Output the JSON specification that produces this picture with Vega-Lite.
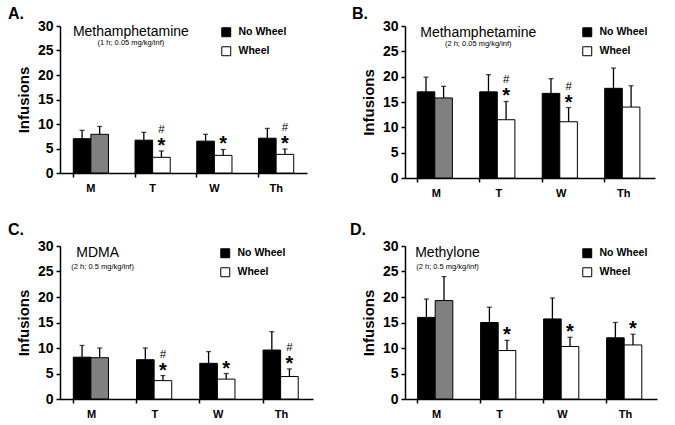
{
  "$schema": "https://vega.github.io/schema/vega-lite/v6.json",
  "background": "white",
  "padding": {"left": 8, "top": 6, "right": 5, "bottom": 0},
  "columns": 2,
  "spacing": {"row": 24, "column": 37},
  "resolve": {"scale": {"fill": "independent", "x": "independent", "y": "independent"}, "legend": {"fill": "independent"}},
  "datasets": {
    "bars": [
      {"panel": "A", "day": "M", "group": "No Wheel", "fill": "No Wheel", "v": 7.0, "hi": 8.7, "star": "", "hash": ""},
      {"panel": "A", "day": "M", "group": "Wheel", "fill": "Wheel M", "v": 7.9, "hi": 9.5, "star": "", "hash": ""},
      {"panel": "A", "day": "T", "group": "No Wheel", "fill": "No Wheel", "v": 6.7, "hi": 8.3, "star": "", "hash": ""},
      {"panel": "A", "day": "T", "group": "Wheel", "fill": "Wheel", "v": 3.2, "hi": 4.5, "star": "*", "hash": "#"},
      {"panel": "A", "day": "W", "group": "No Wheel", "fill": "No Wheel", "v": 6.5, "hi": 7.9, "star": "", "hash": ""},
      {"panel": "A", "day": "W", "group": "Wheel", "fill": "Wheel", "v": 3.6, "hi": 4.8, "star": "*", "hash": ""},
      {"panel": "A", "day": "Th", "group": "No Wheel", "fill": "No Wheel", "v": 7.1, "hi": 9.1, "star": "", "hash": ""},
      {"panel": "A", "day": "Th", "group": "Wheel", "fill": "Wheel", "v": 3.8, "hi": 4.9, "star": "*", "hash": "#"},
      {"panel": "B", "day": "M", "group": "No Wheel", "fill": "No Wheel", "v": 17.0, "hi": 19.9, "star": "", "hash": ""},
      {"panel": "B", "day": "M", "group": "Wheel", "fill": "Wheel M", "v": 15.8, "hi": 18.1, "star": "", "hash": ""},
      {"panel": "B", "day": "T", "group": "No Wheel", "fill": "No Wheel", "v": 17.0, "hi": 20.4, "star": "", "hash": ""},
      {"panel": "B", "day": "T", "group": "Wheel", "fill": "Wheel", "v": 11.5, "hi": 15.1, "star": "*", "hash": "#"},
      {"panel": "B", "day": "W", "group": "No Wheel", "fill": "No Wheel", "v": 16.7, "hi": 19.6, "star": "", "hash": ""},
      {"panel": "B", "day": "W", "group": "Wheel", "fill": "Wheel", "v": 11.1, "hi": 13.9, "star": "*", "hash": "#"},
      {"panel": "B", "day": "Th", "group": "No Wheel", "fill": "No Wheel", "v": 17.7, "hi": 21.7, "star": "", "hash": ""},
      {"panel": "B", "day": "Th", "group": "Wheel", "fill": "Wheel", "v": 14.0, "hi": 18.2, "star": "", "hash": ""},
      {"panel": "C", "day": "M", "group": "No Wheel", "fill": "No Wheel", "v": 8.2, "hi": 10.5, "star": "", "hash": ""},
      {"panel": "C", "day": "M", "group": "Wheel", "fill": "Wheel M", "v": 8.1, "hi": 10.0, "star": "", "hash": ""},
      {"panel": "C", "day": "T", "group": "No Wheel", "fill": "No Wheel", "v": 7.7, "hi": 10.0, "star": "", "hash": ""},
      {"panel": "C", "day": "T", "group": "Wheel", "fill": "Wheel", "v": 3.6, "hi": 4.6, "star": "*", "hash": "#"},
      {"panel": "C", "day": "W", "group": "No Wheel", "fill": "No Wheel", "v": 7.0, "hi": 9.3, "star": "", "hash": ""},
      {"panel": "C", "day": "W", "group": "Wheel", "fill": "Wheel", "v": 3.9, "hi": 5.0, "star": "*", "hash": ""},
      {"panel": "C", "day": "Th", "group": "No Wheel", "fill": "No Wheel", "v": 9.6, "hi": 13.2, "star": "", "hash": ""},
      {"panel": "C", "day": "Th", "group": "Wheel", "fill": "Wheel", "v": 4.4, "hi": 5.9, "star": "*", "hash": "#"},
      {"panel": "D", "day": "M", "group": "No Wheel", "fill": "No Wheel", "v": 16.0, "hi": 19.6, "star": "", "hash": ""},
      {"panel": "D", "day": "M", "group": "Wheel", "fill": "Wheel M", "v": 19.3, "hi": 24.0, "star": "", "hash": ""},
      {"panel": "D", "day": "T", "group": "No Wheel", "fill": "No Wheel", "v": 15.0, "hi": 18.0, "star": "", "hash": ""},
      {"panel": "D", "day": "T", "group": "Wheel", "fill": "Wheel", "v": 9.5, "hi": 11.5, "star": "*", "hash": ""},
      {"panel": "D", "day": "W", "group": "No Wheel", "fill": "No Wheel", "v": 15.7, "hi": 19.8, "star": "", "hash": ""},
      {"panel": "D", "day": "W", "group": "Wheel", "fill": "Wheel", "v": 10.3, "hi": 12.1, "star": "*", "hash": ""},
      {"panel": "D", "day": "Th", "group": "No Wheel", "fill": "No Wheel", "v": 12.0, "hi": 15.0, "star": "", "hash": ""},
      {"panel": "D", "day": "Th", "group": "Wheel", "fill": "Wheel", "v": 10.6, "hi": 12.7, "star": "*", "hash": ""}
    ],
    "labels": [
      {"panel": "A", "kind": "main", "day": "M", "y": 28.8, "text": "Methamphetamine"},
      {"panel": "A", "kind": "sub", "day": "M", "y": 26.5, "text": "(1 h; 0.05 mg/kg/inf)"},
      {"panel": "B", "kind": "main", "day": "M", "y": 28.6, "text": "Methamphetamine"},
      {"panel": "B", "kind": "sub", "day": "M", "y": 26.4, "text": "(2 h; 0.05 mg/kg/inf)"},
      {"panel": "C", "kind": "main", "day": "M", "y": 28.6, "text": "MDMA"},
      {"panel": "C", "kind": "sub", "day": "M", "y": 25.9, "text": "(2 h; 0.5 mg/kg/inf)"},
      {"panel": "D", "kind": "main", "day": "M", "y": 28.6, "text": "Methylone"},
      {"panel": "D", "kind": "sub", "day": "M", "y": 25.9, "text": "(2 h; 0.5 mg/kg/inf)"}
    ]
  },
  "concat": [
    {
      "width": 247, "height": 147,
      "title": {"text": "A.", "anchor": "start", "frame": "group", "dx": -52, "offset": -3},
      "layer": [
        {"data": {"name": "bars"}, "transform": [{"filter": "datum.panel === 'A'"}],
         "mark": {"type": "bar", "stroke": "black", "strokeWidth": 1},
         "encoding": {
           "x": {"field": "day", "type": "nominal", "sort": ["M", "T", "W", "Th"], "scale": {"paddingInner": 0.43, "paddingOuter": 0.215}, "axis": {"bandPosition": 0}},
           "xOffset": {"field": "group", "type": "nominal", "sort": ["No Wheel", "Wheel"]},
           "y": {"field": "v", "type": "quantitative", "title": "Infusions", "scale": {"domain": [0, 30]}, "axis": {"values": [0, 5, 10, 15, 20, 25, 30], "tickCount": 7, "labelOverlap": false}},
           "fill": {"field": "fill", "type": "nominal", "scale": {"domain": ["No Wheel", "Wheel", "Wheel M"], "range": ["#000000", "#ffffff", "#808080"]}, "legend": {"title": null, "values": ["No Wheel", "Wheel"], "legendX": 161, "legendY": 1}}
         }},
        {"data": {"name": "bars"}, "transform": [{"filter": "datum.panel === 'A'"}],
         "mark": {"type": "rule", "color": "black", "strokeWidth": 1.3},
         "encoding": {"x": {"field": "day", "type": "nominal", "sort": ["M", "T", "W", "Th"]}, "xOffset": {"field": "group", "type": "nominal", "sort": ["No Wheel", "Wheel"]}, "y": {"field": "v", "type": "quantitative", "title": "Infusions", "axis": {"values": [0, 5, 10, 15, 20, 25, 30], "tickCount": 7, "labelOverlap": false}}, "y2": {"field": "hi"}}},
        {"data": {"name": "bars"}, "transform": [{"filter": "datum.panel === 'A'"}],
         "mark": {"type": "tick", "color": "black", "thickness": 1.3, "size": 5},
         "encoding": {"x": {"field": "day", "type": "nominal", "sort": ["M", "T", "W", "Th"]}, "xOffset": {"field": "group", "type": "nominal", "sort": ["No Wheel", "Wheel"]}, "y": {"field": "hi", "type": "quantitative", "title": "Infusions", "axis": {"values": [0, 5, 10, 15, 20, 25, 30], "tickCount": 7, "labelOverlap": false}}}},
        {"data": {"name": "bars"}, "transform": [{"filter": "datum.panel === 'A'"}],
         "mark": {"type": "text", "fontSize": 20, "fontWeight": "bold", "baseline": "alphabetic", "dy": 1},
         "encoding": {"x": {"field": "day", "type": "nominal", "sort": ["M", "T", "W", "Th"]}, "xOffset": {"field": "group", "type": "nominal", "sort": ["No Wheel", "Wheel"]}, "y": {"field": "hi", "type": "quantitative", "title": "Infusions", "axis": {"values": [0, 5, 10, 15, 20, 25, 30], "tickCount": 7, "labelOverlap": false}}, "text": {"field": "star"}}},
        {"data": {"name": "bars"}, "transform": [{"filter": "datum.panel === 'A'"}],
         "mark": {"type": "text", "fontSize": 11.5, "baseline": "alphabetic", "dy": -18},
         "encoding": {"x": {"field": "day", "type": "nominal", "sort": ["M", "T", "W", "Th"]}, "xOffset": {"field": "group", "type": "nominal", "sort": ["No Wheel", "Wheel"]}, "y": {"field": "hi", "type": "quantitative", "title": "Infusions", "axis": {"values": [0, 5, 10, 15, 20, 25, 30], "tickCount": 7, "labelOverlap": false}}, "text": {"field": "hash"}}},
        {"data": {"name": "labels"}, "transform": [{"filter": "datum.panel === 'A' && datum.kind === 'main'"}],
         "mark": {"type": "text", "fontSize": 14, "baseline": "middle", "dx": 40},
         "encoding": {"x": {"field": "day", "type": "nominal", "sort": ["M", "T", "W", "Th"]}, "y": {"field": "y", "type": "quantitative", "title": "Infusions", "axis": {"values": [0, 5, 10, 15, 20, 25, 30], "tickCount": 7, "labelOverlap": false}}, "text": {"field": "text"}}},
        {"data": {"name": "labels"}, "transform": [{"filter": "datum.panel === 'A' && datum.kind === 'sub'"}],
         "mark": {"type": "text", "fontSize": 7.5, "baseline": "middle", "dx": 40},
         "encoding": {"x": {"field": "day", "type": "nominal", "sort": ["M", "T", "W", "Th"]}, "y": {"field": "y", "type": "quantitative", "title": "Infusions", "axis": {"values": [0, 5, 10, 15, 20, 25, 30], "tickCount": 7, "labelOverlap": false}}, "text": {"field": "text"}}}
      ]
    },
    {
      "width": 250, "height": 152,
      "title": {"text": "B.", "anchor": "start", "frame": "group", "dx": -53, "offset": -3},
      "layer": [
        {"data": {"name": "bars"}, "transform": [{"filter": "datum.panel === 'B'"}],
         "mark": {"type": "bar", "stroke": "black", "strokeWidth": 1},
         "encoding": {
           "x": {"field": "day", "type": "nominal", "sort": ["M", "T", "W", "Th"], "scale": {"paddingInner": 0.39, "paddingOuter": 0.195}, "axis": {"bandPosition": 0}},
           "xOffset": {"field": "group", "type": "nominal", "sort": ["No Wheel", "Wheel"]},
           "y": {"field": "v", "type": "quantitative", "title": "Infusions", "scale": {"domain": [0, 30]}, "axis": {"values": [0, 5, 10, 15, 20, 25, 30], "tickCount": 7, "labelOverlap": false}},
           "fill": {"field": "fill", "type": "nominal", "scale": {"domain": ["No Wheel", "Wheel", "Wheel M"], "range": ["#000000", "#ffffff", "#808080"]}, "legend": {"title": null, "values": ["No Wheel", "Wheel"], "legendX": 177, "legendY": 1}}
         }},
        {"data": {"name": "bars"}, "transform": [{"filter": "datum.panel === 'B'"}],
         "mark": {"type": "rule", "color": "black", "strokeWidth": 1.3},
         "encoding": {"x": {"field": "day", "type": "nominal", "sort": ["M", "T", "W", "Th"]}, "xOffset": {"field": "group", "type": "nominal", "sort": ["No Wheel", "Wheel"]}, "y": {"field": "v", "type": "quantitative", "title": "Infusions", "axis": {"values": [0, 5, 10, 15, 20, 25, 30], "tickCount": 7, "labelOverlap": false}}, "y2": {"field": "hi"}}},
        {"data": {"name": "bars"}, "transform": [{"filter": "datum.panel === 'B'"}],
         "mark": {"type": "tick", "color": "black", "thickness": 1.3, "size": 5},
         "encoding": {"x": {"field": "day", "type": "nominal", "sort": ["M", "T", "W", "Th"]}, "xOffset": {"field": "group", "type": "nominal", "sort": ["No Wheel", "Wheel"]}, "y": {"field": "hi", "type": "quantitative", "title": "Infusions", "axis": {"values": [0, 5, 10, 15, 20, 25, 30], "tickCount": 7, "labelOverlap": false}}}},
        {"data": {"name": "bars"}, "transform": [{"filter": "datum.panel === 'B'"}],
         "mark": {"type": "text", "fontSize": 20, "fontWeight": "bold", "baseline": "alphabetic", "dy": 1},
         "encoding": {"x": {"field": "day", "type": "nominal", "sort": ["M", "T", "W", "Th"]}, "xOffset": {"field": "group", "type": "nominal", "sort": ["No Wheel", "Wheel"]}, "y": {"field": "hi", "type": "quantitative", "title": "Infusions", "axis": {"values": [0, 5, 10, 15, 20, 25, 30], "tickCount": 7, "labelOverlap": false}}, "text": {"field": "star"}}},
        {"data": {"name": "bars"}, "transform": [{"filter": "datum.panel === 'B'"}],
         "mark": {"type": "text", "fontSize": 11.5, "baseline": "alphabetic", "dy": -18},
         "encoding": {"x": {"field": "day", "type": "nominal", "sort": ["M", "T", "W", "Th"]}, "xOffset": {"field": "group", "type": "nominal", "sort": ["No Wheel", "Wheel"]}, "y": {"field": "hi", "type": "quantitative", "title": "Infusions", "axis": {"values": [0, 5, 10, 15, 20, 25, 30], "tickCount": 7, "labelOverlap": false}}, "text": {"field": "hash"}}},
        {"data": {"name": "labels"}, "transform": [{"filter": "datum.panel === 'B' && datum.kind === 'main'"}],
         "mark": {"type": "text", "fontSize": 14, "baseline": "middle", "dx": 42},
         "encoding": {"x": {"field": "day", "type": "nominal", "sort": ["M", "T", "W", "Th"]}, "y": {"field": "y", "type": "quantitative", "title": "Infusions", "axis": {"values": [0, 5, 10, 15, 20, 25, 30], "tickCount": 7, "labelOverlap": false}}, "text": {"field": "text"}}},
        {"data": {"name": "labels"}, "transform": [{"filter": "datum.panel === 'B' && datum.kind === 'sub'"}],
         "mark": {"type": "text", "fontSize": 7.5, "baseline": "middle", "dx": 42},
         "encoding": {"x": {"field": "day", "type": "nominal", "sort": ["M", "T", "W", "Th"]}, "y": {"field": "y", "type": "quantitative", "title": "Infusions", "axis": {"values": [0, 5, 10, 15, 20, 25, 30], "tickCount": 7, "labelOverlap": false}}, "text": {"field": "text"}}}
      ]
    },
    {
      "width": 253, "height": 153,
      "title": {"text": "C.", "anchor": "start", "frame": "group", "dx": -52, "offset": 1},
      "layer": [
        {"data": {"name": "bars"}, "transform": [{"filter": "datum.panel === 'C'"}],
         "mark": {"type": "bar", "stroke": "black", "strokeWidth": 1},
         "encoding": {
           "x": {"field": "day", "type": "nominal", "sort": ["M", "T", "W", "Th"], "scale": {"paddingInner": 0.42, "paddingOuter": 0.21}, "axis": {"bandPosition": 0}},
           "xOffset": {"field": "group", "type": "nominal", "sort": ["No Wheel", "Wheel"]},
           "y": {"field": "v", "type": "quantitative", "title": "Infusions", "scale": {"domain": [0, 30]}, "axis": {"values": [0, 5, 10, 15, 20, 25, 30], "tickCount": 7, "labelOverlap": false}},
           "fill": {"field": "fill", "type": "nominal", "scale": {"domain": ["No Wheel", "Wheel", "Wheel M"], "range": ["#000000", "#ffffff", "#808080"]}, "legend": {"title": null, "values": ["No Wheel", "Wheel"], "legendX": 160, "legendY": 2}}
         }},
        {"data": {"name": "bars"}, "transform": [{"filter": "datum.panel === 'C'"}],
         "mark": {"type": "rule", "color": "black", "strokeWidth": 1.3},
         "encoding": {"x": {"field": "day", "type": "nominal", "sort": ["M", "T", "W", "Th"]}, "xOffset": {"field": "group", "type": "nominal", "sort": ["No Wheel", "Wheel"]}, "y": {"field": "v", "type": "quantitative", "title": "Infusions", "axis": {"values": [0, 5, 10, 15, 20, 25, 30], "tickCount": 7, "labelOverlap": false}}, "y2": {"field": "hi"}}},
        {"data": {"name": "bars"}, "transform": [{"filter": "datum.panel === 'C'"}],
         "mark": {"type": "tick", "color": "black", "thickness": 1.3, "size": 5},
         "encoding": {"x": {"field": "day", "type": "nominal", "sort": ["M", "T", "W", "Th"]}, "xOffset": {"field": "group", "type": "nominal", "sort": ["No Wheel", "Wheel"]}, "y": {"field": "hi", "type": "quantitative", "title": "Infusions", "axis": {"values": [0, 5, 10, 15, 20, 25, 30], "tickCount": 7, "labelOverlap": false}}}},
        {"data": {"name": "bars"}, "transform": [{"filter": "datum.panel === 'C'"}],
         "mark": {"type": "text", "fontSize": 20, "fontWeight": "bold", "baseline": "alphabetic", "dy": 1},
         "encoding": {"x": {"field": "day", "type": "nominal", "sort": ["M", "T", "W", "Th"]}, "xOffset": {"field": "group", "type": "nominal", "sort": ["No Wheel", "Wheel"]}, "y": {"field": "hi", "type": "quantitative", "title": "Infusions", "axis": {"values": [0, 5, 10, 15, 20, 25, 30], "tickCount": 7, "labelOverlap": false}}, "text": {"field": "star"}}},
        {"data": {"name": "bars"}, "transform": [{"filter": "datum.panel === 'C'"}],
         "mark": {"type": "text", "fontSize": 11.5, "baseline": "alphabetic", "dy": -18},
         "encoding": {"x": {"field": "day", "type": "nominal", "sort": ["M", "T", "W", "Th"]}, "xOffset": {"field": "group", "type": "nominal", "sort": ["No Wheel", "Wheel"]}, "y": {"field": "hi", "type": "quantitative", "title": "Infusions", "axis": {"values": [0, 5, 10, 15, 20, 25, 30], "tickCount": 7, "labelOverlap": false}}, "text": {"field": "hash"}}},
        {"data": {"name": "labels"}, "transform": [{"filter": "datum.panel === 'C' && datum.kind === 'main'"}],
         "mark": {"type": "text", "fontSize": 14, "baseline": "middle", "dx": 6},
         "encoding": {"x": {"field": "day", "type": "nominal", "sort": ["M", "T", "W", "Th"]}, "y": {"field": "y", "type": "quantitative", "title": "Infusions", "axis": {"values": [0, 5, 10, 15, 20, 25, 30], "tickCount": 7, "labelOverlap": false}}, "text": {"field": "text"}}},
        {"data": {"name": "labels"}, "transform": [{"filter": "datum.panel === 'C' && datum.kind === 'sub'"}],
         "mark": {"type": "text", "fontSize": 7.5, "baseline": "middle", "dx": 11},
         "encoding": {"x": {"field": "day", "type": "nominal", "sort": ["M", "T", "W", "Th"]}, "y": {"field": "y", "type": "quantitative", "title": "Infusions", "axis": {"values": [0, 5, 10, 15, 20, 25, 30], "tickCount": 7, "labelOverlap": false}}, "text": {"field": "text"}}}
      ]
    },
    {
      "width": 252, "height": 153,
      "title": {"text": "D.", "anchor": "start", "frame": "group", "dx": -55, "offset": 1},
      "layer": [
        {"data": {"name": "bars"}, "transform": [{"filter": "datum.panel === 'D'"}],
         "mark": {"type": "bar", "stroke": "black", "strokeWidth": 1},
         "encoding": {
           "x": {"field": "day", "type": "nominal", "sort": ["M", "T", "W", "Th"], "scale": {"paddingInner": 0.4, "paddingOuter": 0.2}, "axis": {"bandPosition": 0}},
           "xOffset": {"field": "group", "type": "nominal", "sort": ["No Wheel", "Wheel"]},
           "y": {"field": "v", "type": "quantitative", "title": "Infusions", "scale": {"domain": [0, 30]}, "axis": {"values": [0, 5, 10, 15, 20, 25, 30], "tickCount": 7, "labelOverlap": false}},
           "fill": {"field": "fill", "type": "nominal", "scale": {"domain": ["No Wheel", "Wheel", "Wheel M"], "range": ["#000000", "#ffffff", "#808080"]}, "legend": {"title": null, "values": ["No Wheel", "Wheel"], "legendX": 177, "legendY": 2}}
         }},
        {"data": {"name": "bars"}, "transform": [{"filter": "datum.panel === 'D'"}],
         "mark": {"type": "rule", "color": "black", "strokeWidth": 1.3},
         "encoding": {"x": {"field": "day", "type": "nominal", "sort": ["M", "T", "W", "Th"]}, "xOffset": {"field": "group", "type": "nominal", "sort": ["No Wheel", "Wheel"]}, "y": {"field": "v", "type": "quantitative", "title": "Infusions", "axis": {"values": [0, 5, 10, 15, 20, 25, 30], "tickCount": 7, "labelOverlap": false}}, "y2": {"field": "hi"}}},
        {"data": {"name": "bars"}, "transform": [{"filter": "datum.panel === 'D'"}],
         "mark": {"type": "tick", "color": "black", "thickness": 1.3, "size": 5},
         "encoding": {"x": {"field": "day", "type": "nominal", "sort": ["M", "T", "W", "Th"]}, "xOffset": {"field": "group", "type": "nominal", "sort": ["No Wheel", "Wheel"]}, "y": {"field": "hi", "type": "quantitative", "title": "Infusions", "axis": {"values": [0, 5, 10, 15, 20, 25, 30], "tickCount": 7, "labelOverlap": false}}}},
        {"data": {"name": "bars"}, "transform": [{"filter": "datum.panel === 'D'"}],
         "mark": {"type": "text", "fontSize": 20, "fontWeight": "bold", "baseline": "alphabetic", "dy": 1},
         "encoding": {"x": {"field": "day", "type": "nominal", "sort": ["M", "T", "W", "Th"]}, "xOffset": {"field": "group", "type": "nominal", "sort": ["No Wheel", "Wheel"]}, "y": {"field": "hi", "type": "quantitative", "title": "Infusions", "axis": {"values": [0, 5, 10, 15, 20, 25, 30], "tickCount": 7, "labelOverlap": false}}, "text": {"field": "star"}}},
        {"data": {"name": "bars"}, "transform": [{"filter": "datum.panel === 'D'"}],
         "mark": {"type": "text", "fontSize": 11.5, "baseline": "alphabetic", "dy": -18},
         "encoding": {"x": {"field": "day", "type": "nominal", "sort": ["M", "T", "W", "Th"]}, "xOffset": {"field": "group", "type": "nominal", "sort": ["No Wheel", "Wheel"]}, "y": {"field": "hi", "type": "quantitative", "title": "Infusions", "axis": {"values": [0, 5, 10, 15, 20, 25, 30], "tickCount": 7, "labelOverlap": false}}, "text": {"field": "hash"}}},
        {"data": {"name": "labels"}, "transform": [{"filter": "datum.panel === 'D' && datum.kind === 'main'"}],
         "mark": {"type": "text", "fontSize": 14, "baseline": "middle", "dx": 11},
         "encoding": {"x": {"field": "day", "type": "nominal", "sort": ["M", "T", "W", "Th"]}, "y": {"field": "y", "type": "quantitative", "title": "Infusions", "axis": {"values": [0, 5, 10, 15, 20, 25, 30], "tickCount": 7, "labelOverlap": false}}, "text": {"field": "text"}}},
        {"data": {"name": "labels"}, "transform": [{"filter": "datum.panel === 'D' && datum.kind === 'sub'"}],
         "mark": {"type": "text", "fontSize": 7.5, "baseline": "middle", "dx": 11},
         "encoding": {"x": {"field": "day", "type": "nominal", "sort": ["M", "T", "W", "Th"]}, "y": {"field": "y", "type": "quantitative", "title": "Infusions", "axis": {"values": [0, 5, 10, 15, 20, 25, 30], "tickCount": 7, "labelOverlap": false}}, "text": {"field": "text"}}}
      ]
    }
  ],
  "config": {
    "font": "Liberation Sans",
    "view": {"stroke": null},
    "text": {"font": "Liberation Sans", "color": "black"},
    "title": {"font": "Liberation Sans", "fontSize": 16, "fontWeight": "bold", "color": "black"},
    "axis": {"grid": false, "domainColor": "black", "tickColor": "black", "labelColor": "black", "titleColor": "black", "labelFont": "Liberation Sans", "titleFont": "Liberation Sans", "labelFontWeight": "bold", "domainWidth": 1.5, "tickWidth": 1.5},
    "axisX": {"title": null, "labelAngle": 0, "tickSize": 4, "labelFontSize": 11, "labelPadding": 5},
    "axisY": {"titleFontSize": 15, "titleFontWeight": "bold", "labelFontSize": 14, "tickSize": 4, "labelPadding": 3, "titlePadding": 6, "labelOverlap": false},
    "legend": {"orient": "none", "symbolType": "square", "symbolSize": 80, "symbolStrokeColor": "black", "symbolStrokeWidth": 1, "symbolOpacity": 1, "labelFont": "Liberation Sans", "labelFontSize": 10.5, "labelFontWeight": "bold", "labelColor": "black", "rowPadding": 5, "labelOffset": 7, "padding": 0}
  }
}
